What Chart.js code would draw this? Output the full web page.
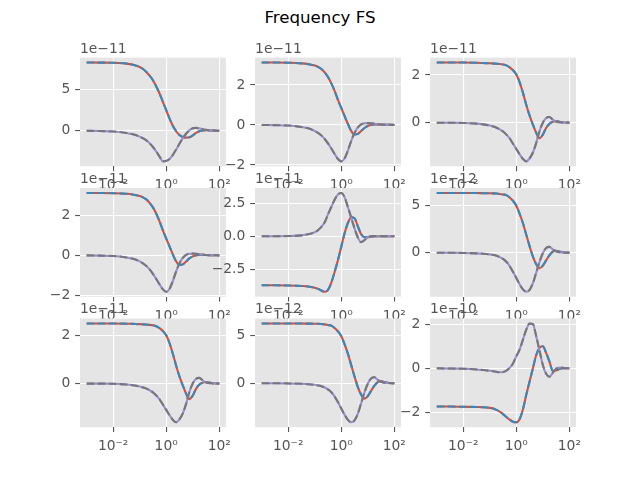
<!DOCTYPE html>
<html><head><meta charset="utf-8">
<script src="https://cdn.jsdelivr.net/npm/chart.js@4.4.0/dist/chart.umd.min.js"></script>
<style>
html,body{margin:0;padding:0;background:#fff;}
#fig{position:relative;width:640px;height:480px;overflow:hidden;background:#fff;}
#title{position:absolute;left:0;top:8px;width:640px;text-align:center;font-family:'DejaVu Sans';font-size:16.67px;color:#000;line-height:1.164;white-space:nowrap;}
canvas{position:absolute;}
</style></head><body>
<div id="fig"><div id="title">Frequency FS</div></div>
<script>
// ---- data (values in units of 10^exponent) ----
const freq = [0.001, 0.00316, 0.01, 0.0316, 0.0562, 0.1, 0.133, 0.178, 0.237, 0.316, 0.422, 0.562, 0.75, 1, 1.33, 1.78, 2.37, 3.16, 4.22, 5.62, 7.5, 10, 13.3, 17.8, 23.7, 31.6, 42.2, 56.2, 100];

const realA = [8.23, 8.22, 8.2, 8.1, 7.95, 7.7, 7.45, 7.1, 6.65, 6.1, 5.35, 4.5, 3.5, 2.5, 1.5, 0.6, -0.05, -0.5, -0.75, -0.82, -0.78, -0.55, -0.25, -0.05, 0.05, 0.07, 0.05, 0.03, 0];
const imagA = [0, -0.03, -0.08, -0.25, -0.42, -0.7, -0.9, -1.15, -1.5, -1.95, -2.5, -3.1, -3.68, -3.62, -3.4, -2.9, -2.25, -1.55, -0.9, -0.35, 0.05, 0.3, 0.36, 0.3, 0.2, 0.12, 0.07, 0.04, 0];

const realB = [3.12, 3.12, 3.11, 3.08, 3.04, 2.97, 2.9, 2.8, 2.63, 2.4, 2.08, 1.7, 1.25, 0.85, 0.45, 0.05, -0.3, -0.48, -0.45, -0.3, -0.15, -0.05, 0, 0.03, 0.03, 0.02, 0.01, 0.01, 0];
const imagB = [0, -0.01, -0.03, -0.1, -0.17, -0.3, -0.4, -0.53, -0.7, -0.92, -1.18, -1.45, -1.7, -1.82, -1.68, -1.28, -0.8, -0.4, -0.12, 0.03, 0.08, 0.09, 0.08, 0.06, 0.04, 0.02, 0.01, 0.01, 0];

const realC = [2.52, 2.52, 2.52, 2.51, 2.5, 2.49, 2.48, 2.47, 2.46, 2.44, 2.4, 2.32, 2.2, 2.02, 1.7, 1.25, 0.75, 0.3, -0.08, -0.42, -0.65, -0.5, -0.22, -0.04, 0.04, 0.06, 0.04, 0.02, 0];
const imagC = [0, 0, -0.01, -0.04, -0.07, -0.12, -0.16, -0.21, -0.28, -0.37, -0.5, -0.66, -0.88, -1.1, -1.32, -1.52, -1.62, -1.5, -1.25, -0.85, -0.35, 0.0, 0.2, 0.24, 0.13, 0.05, 0.02, 0.01, 0];

const realD = [-3.71, -3.71, -3.72, -3.76, -3.8, -3.9, -3.98, -4.1, -4.2, -4.05, -3.5, -2.7, -1.8, -0.8, 0.2, 1.0, 1.42, 1.35, 0.75, 0.15, -0.08, -0.08, -0.04, -0.01, 0, 0, 0, 0, 0];
const imagD = [0, 0, 0.01, 0.06, 0.14, 0.3, 0.45, 0.7, 1.05, 1.65, 2.2, 2.75, 3.15, 3.26, 2.95, 2.2, 1.4, 0.6, -0.1, -0.45, -0.3, -0.08, 0, 0.01, 0, 0, 0, 0, 0];

const realE = [6.28, 6.28, 6.28, 6.27, 6.26, 6.25, 6.24, 6.22, 6.18, 6.12, 6.05, 5.8, 5.45, 4.95, 4.1, 3.1, 1.9, 0.7, -0.4, -1.2, -1.62, -1.35, -0.8, -0.25, 0.12, 0.2, 0.12, 0.05, 0];
const imagE = [0, 0, -0.02, -0.06, -0.1, -0.17, -0.23, -0.31, -0.45, -0.65, -0.95, -1.4, -2.0, -2.65, -3.3, -3.85, -4.1, -3.9, -3.2, -2.1, -0.95, -0.05, 0.5, 0.62, 0.35, 0.15, 0.06, 0.02, 0];

const realF = [-1.73, -1.73, -1.74, -1.75, -1.76, -1.79, -1.82, -1.88, -1.96, -2.07, -2.2, -2.32, -2.42, -2.44, -2.3, -1.85, -1.2, -0.6, 0.0, 0.6, 0.92, 1.0, 0.7, 0.3, -0.12, -0.1, -0.03, 0, 0];
const imagF = [0, -0.01, -0.02, -0.05, -0.08, -0.11, -0.13, -0.16, -0.18, -0.17, -0.1, 0.02, 0.22, 0.55, 0.85, 1.3, 1.75, 2.03, 2.0, 1.45, 0.8, 0.15, -0.25, -0.38, -0.2, -0.02, 0.04, 0.02, 0];

const panelReal = [realA, realB, realC, realB, realD, realE, realC, realE, realF];
const panelImag = [imagA, imagB, imagC, imagB, imagD, imagE, imagC, imagE, imagF];
const panelExp = [-11, -11, -11, -11, -11, -12, -11, -12, -10];
const panelYTicks = [[0, 5], [-2, 0, 2], [0, 2], [-2, 0, 2], [-2.5, 0, 2.5], [0, 5], [0, 2], [0, 5], [-2, 0, 2]];
const panelYLabels = [['0', '5'], ['−2', '0', '2'], ['0', '2'], ['−2', '0', '2'], ['−2.5', '0.0', '2.5'], ['0', '5'], ['0', '2'], ['0', '5'], ['−2', '0', '2']];
const xTickValues = [0.01, 1, 100];
const xTickLabels = ['10⁻²', '10⁰', '10²'];

// ---- layout ----
const FW = 640, FH = 480;
const L = 0.125 * FW, R = 0.9 * FW, T = FH - 0.88 * FH, B = FH - 0.11 * FH;
const aw = (R - L) / 3.4, ah = (B - T) / 3.4;
const FONT = 'DejaVu Sans';
const FS = 13.89;
const LW = 2.08;
const DASH = [7.7, 3.33];
const TICKC = '#555555';

Chart.defaults.font.family = FONT;

const bgPlugin = {
  id: 'axbg',
  beforeDraw(chart) {
    const a = chart.chartArea, ctx = chart.ctx;
    ctx.save();
    ctx.fillStyle = '#E5E5E5';
    ctx.fillRect(a.left, a.top, a.right - a.left, a.bottom - a.top);
    ctx.restore();
  }
};
const offsetPlugin = {
  id: 'offsettext',
  afterDraw(chart, args, opts) {
    const a = chart.chartArea, ctx = chart.ctx;
    ctx.save();
    ctx.font = FS + 'px "' + FONT + '"';
    ctx.fillStyle = TICKC;
    ctx.textBaseline = 'alphabetic';
    ctx.textAlign = 'left';
    ctx.fillText(opts.text, a.left, a.top - 5);
    ctx.restore();
  }
};

const fig = document.getElementById('fig');
for (let i = 0; i < 9; i++) {
  const c = i % 3, r = Math.floor(i / 3);
  const axL = L + c * aw * 1.2, axT = T + r * ah * 1.2;
  const cL = Math.floor(axL) - 60, cT = Math.floor(axT) - 30;
  const cw = 60 + Math.ceil(aw) + 30, ch = 30 + Math.ceil(ah) + 40;
  const padTop = axT - cT, yW = axL - cL, padRight = cw - yW - aw, xH = ch - padTop - ah;
  const cv = document.createElement('canvas');
  cv.width = cw; cv.height = ch;
  cv.style.left = cL + 'px'; cv.style.top = cT + 'px';
  cv.style.width = cw + 'px'; cv.style.height = ch + 'px';
  fig.appendChild(cv);

  const re = panelReal[i], im = panelImag[i];
  const rePts = freq.map((f, k) => ({ x: f, y: re[k] }));
  const imPts = freq.map((f, k) => ({ x: f, y: im[k] }));
  const all = re.concat(im);
  const dmin = Math.min(...all), dmax = Math.max(...all);
  const m = 0.05 * (dmax - dmin);
  const yTicks = panelYTicks[i], yLabels = panelYLabels[i];
  const common = { pointRadius: 0, borderWidth: LW, fill: false, cubicInterpolationMode: 'monotone', borderJoinStyle: 'round', borderCapStyle: 'butt' };

  new Chart(cv, {
    type: 'line',
    data: {
      datasets: [
        Object.assign({ label: 'Re', data: rePts, borderColor: '#E24A33', order: 3 }, common),
        Object.assign({ label: 'Re', data: rePts, borderColor: '#348ABD', borderDash: DASH, order: 2 }, common),
        Object.assign({ label: 'Im', data: imPts, borderColor: '#988ED5', order: 1 }, common),
        Object.assign({ label: 'Im', data: imPts, borderColor: '#777777', borderDash: DASH, order: 0 }, common)
      ]
    },
    options: {
      responsive: false, animation: false, events: [], devicePixelRatio: window.devicePixelRatio || 1,
      layout: { autoPadding: false, padding: { left: 0, top: padTop, right: padRight, bottom: 0 } },
      plugins: { legend: { display: false }, tooltip: { enabled: false }, title: { display: false }, offsettext: { text: '1e−' + Math.abs(panelExp[i]) } },
      scales: {
        x: {
          type: 'logarithmic', min: Math.pow(10, -3.25), max: Math.pow(10, 2.25),
          afterBuildTicks: s => { s.ticks = xTickValues.map(v => ({ value: v })); },
          afterFit: s => { s.height = xH; s.paddingLeft = 0; s.paddingRight = 0; s.paddingTop = 0; s.paddingBottom = 0; },
          ticks: { callback: (v, k) => xTickLabels[k], font: { size: FS, family: FONT }, color: TICKC, padding: 6, autoSkip: false, maxRotation: 0, minRotation: 0 },
          grid: { color: '#ffffff', lineWidth: 1.1, tickColor: TICKC, tickLength: 4.86, tickWidth: 1.1, drawTicks: true },
          border: { display: false }
        },
        y: {
          type: 'linear', min: dmin - m, max: dmax + m,
          afterBuildTicks: s => { s.ticks = yTicks.map(v => ({ value: v })); },
          afterFit: s => { s.width = yW; s.paddingLeft = 0; s.paddingRight = 0; s.paddingTop = 0; s.paddingBottom = 0; },
          ticks: { callback: (v, k) => yLabels[k], font: { size: FS, family: FONT }, color: TICKC, padding: 4.86, autoSkip: false },
          grid: { color: '#ffffff', lineWidth: 1.1, tickColor: TICKC, tickLength: 4.86, tickWidth: 1.1, drawTicks: true },
          border: { display: false }
        }
      }
    },
    plugins: [bgPlugin, offsetPlugin]
  });
}
</script>
</body></html>
